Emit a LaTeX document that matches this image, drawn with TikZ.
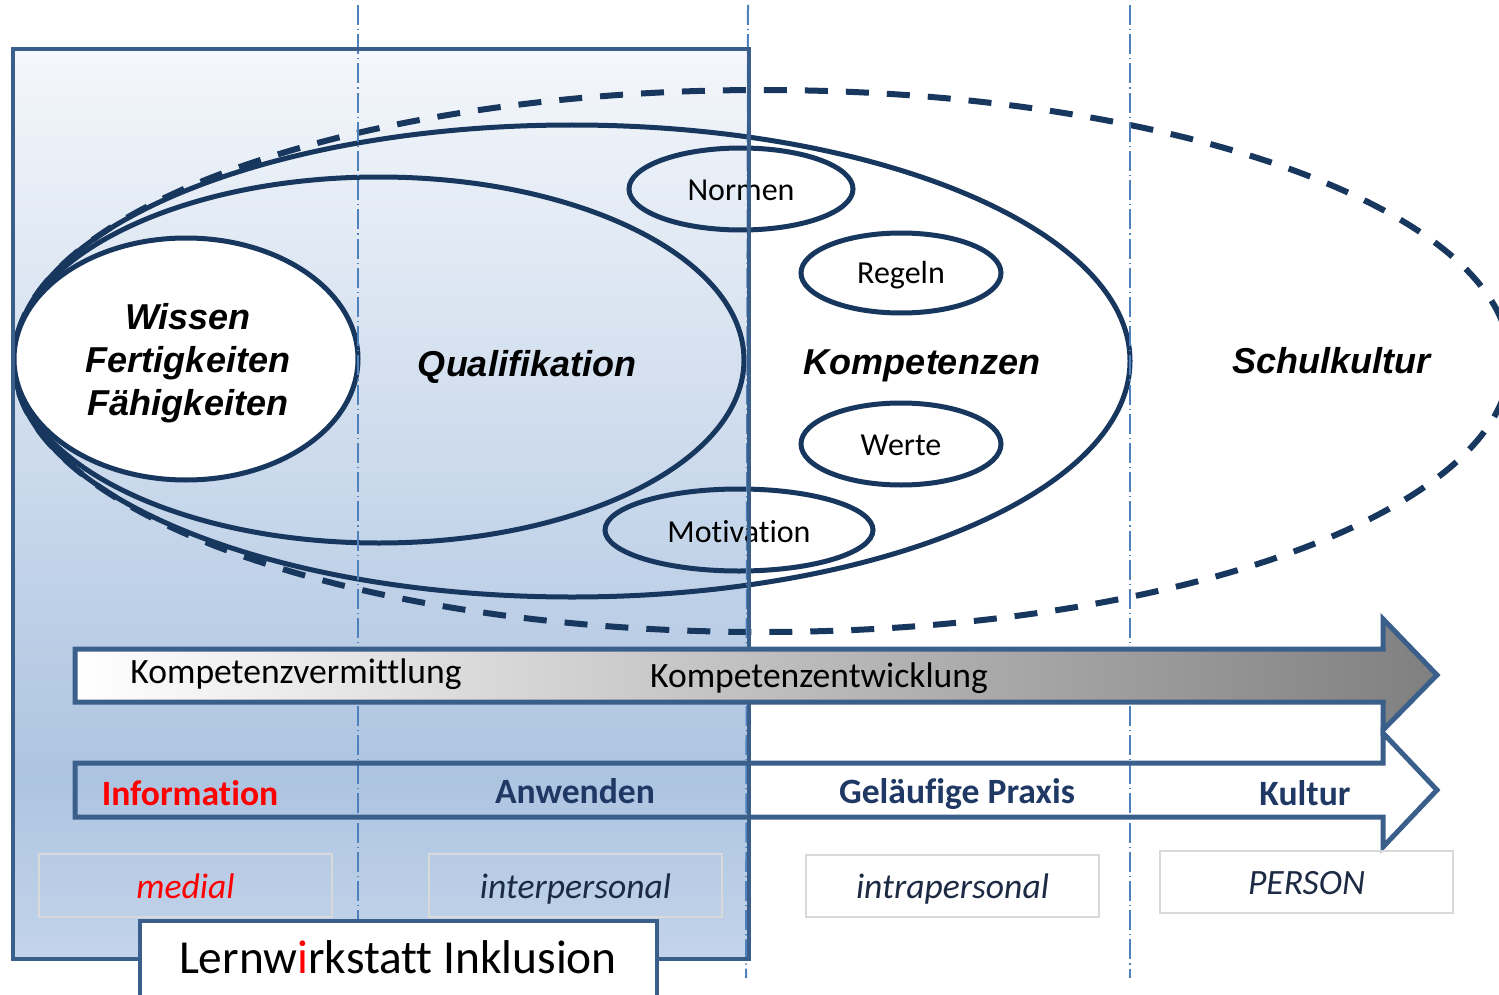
\documentclass[tikz,border=0pt]{standalone}
\usepackage{fontspec}
\setmainfont{Carlito}[Ligatures={NoCommon,NoContextual},RawFeature={-liga;-clig;-dlig}]
\newfontfamily\arialfont{Liberation Sans}
\definecolor{navy}{HTML}{17375E}
\definecolor{steel}{HTML}{3A5F8B}
\definecolor{ddline}{HTML}{4F81BD}
\definecolor{bgT}{HTML}{F4F7FB}
\definecolor{bgM}{HTML}{ADC4E1}
\definecolor{bgB}{HTML}{C3D4EA}
\definecolor{lbl}{HTML}{1F3864}
\definecolor{itl}{HTML}{1C2A44}
\definecolor{boxgray}{HTML}{D9D9D9}
\pgfdeclareverticalshading{bluebg}{100bp}{color(0bp)=(bgB); color(25bp)=(bgB); color(35bp)=(bgM); color(75bp)=(bgT); color(100bp)=(bgT)}
\begin{document}
\begin{tikzpicture}[x=0.5pt,y=-0.5pt,
  ell/.style={draw=navy, line width=2.5pt},
  dashell/.style={draw=navy, line width=3pt, dash pattern=on 11.5pt off 9pt},
  ddl/.style={draw=ddline, line width=1pt, dash pattern=on 10pt off 2pt on 0.6pt off 2pt},
  frame/.style={draw=steel, line width=2pt},
  arr/.style={draw=steel, line width=2.5pt, line join=miter},
  gbox/.style={draw=boxgray, line width=0.7pt},
  bigit/.style={font=\arialfont\bfseries\itshape\fontsize{18}{21}\selectfont, anchor=base, inner sep=0pt},
  smalllab/.style={font=\fontsize{16}{19}\selectfont, anchor=base, inner sep=0pt},
  midlab/.style={font=\fontsize{17.8}{21}\selectfont, anchor=base, inner sep=0pt},
  boldlab/.style={font=\bfseries\fontsize{17.8}{21}\selectfont, text=lbl, anchor=base, inner sep=0pt},
  itlab/.style={font=\itshape\fontsize{17.8}{21}\selectfont, text=itl, anchor=base, inner sep=0pt}]
\useasboundingbox (0,0) rectangle (1499,995);
\fill[white] (0,0) rectangle (1499,995);
% blue background rectangle
\shade[shading=bluebg] (13,49) rectangle (749,959);
% ellipses
\draw[dashell] (762,361) ellipse [x radius=374pt, y radius=135.5pt];
\draw[ell] (572,361) ellipse [x radius=279pt, y radius=118pt];
\draw[ell] (379,360) ellipse [x radius=182.5pt, y radius=91.5pt];
\draw[ell, fill=white] (186,359) ellipse [x radius=86pt, y radius=60.5pt];
\draw[ell] (741,189) ellipse [x radius=56pt, y radius=20.5pt];
\draw[ell] (901,273) ellipse [x radius=50pt, y radius=20pt];
\draw[ell] (901,444) ellipse [x radius=50pt, y radius=20.5pt];
\draw[ell] (739,530) ellipse [x radius=67pt, y radius=20.5pt];
% dash-dot lines
\draw[ddl] (358,5) -- (358,978);
\draw[ddl] (748,5) -- (746,978);
\draw[ddl] (1130,5) -- (1130,978);
% ellipse labels
\node[bigit] (wissen) at (188,329) {Wissen};
\node[bigit] (fertig) at (188,372) {Fertigkeiten};
\node[bigit] (faehig) at (188,415) {Fähigkeiten};
\node[bigit] (qual) at (527,376) {Qualifikation};
\node[bigit] (komp) at (922,374) {Kompetenzen};
\node[bigit] (schul) at (1331,373) {Schulkultur};
\node[smalllab] (normen) at (741,200) {Normen};
\node[smalllab] (regeln) at (901,283) {Regeln};
\node[smalllab] (werte) at (901,455) {Werte};
\node[smalllab] (motiv) at (739,542) {Motivation};
% frame border
\draw[frame] (13,49) rectangle (749,959);
% arrows
\draw[arr, left color=white, right color=black!50] (75,649) -- (1383,649) -- (1383,619) -- (1437,675) -- (1383,730) -- (1383,702) -- (75,702) -- cycle;
\draw[arr] (75,763) -- (1383,763) -- (1383,733) -- (1437,790) -- (1383,847) -- (1383,817) -- (75,817) -- cycle;
\node[midlab] (vermittl) at (296,683) {Kompetenzvermittlung};
\node[midlab] (entw) at (819,687) {Kompetenzentwicklung};
\node[boldlab, text=red] (info) at (190,805) {Information};
\node[boldlab] (anw) at (575,803) {Anwenden};
\node[boldlab] (praxis) at (957,803) {Geläufige Praxis};
\node[boldlab] (kultur) at (1305,805) {Kultur};
% grey boxes
\draw[gbox] (39,854) rectangle (332,917);
\draw[gbox] (429,854) rectangle (722,917);
\draw[gbox] (806,855) rectangle (1099,917);
\draw[gbox] (1160,851) rectangle (1453,913);
\node[itlab, text=red] (medial) at (185.5,898) {medial};
\node[itlab] (inter) at (575.5,898) {interpersonal};
\node[itlab] (intra) at (952.5,898) {intrapersonal};
\node[itlab] (person) at (1306.5,894) {PERSON};
% Lernwirkstatt box
\draw[frame, fill=white] (140,921) rectangle (657,1010);
\node[font=\fontsize{23.7}{28}\selectfont, anchor=base, inner sep=0pt] (lwi) at (398,973) {Lernw{\color{red}i}rkstatt Inklusion};
\end{tikzpicture}
\end{document}
